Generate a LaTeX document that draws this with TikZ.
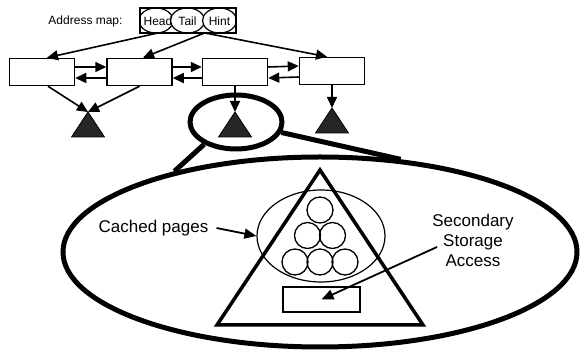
\documentclass[tikz,border=0pt]{standalone}
\usepackage{fontspec}
\setmainfont{Liberation Sans}
\usetikzlibrary{arrows.meta,shapes.geometric}
\begin{document}
\begin{tikzpicture}[x=1pt,y=-1pt,
  box/.style={draw,line width=1.5pt,minimum width=65pt,minimum height=27pt,inner sep=0pt,fill=white},
  conn/.style={line width=1.6pt,-{Triangle[length=11pt,width=10pt]}},
  conn2/.style={line width=1.8pt,-{Triangle[length=12pt,width=10pt]}},
  ell/.style={ellipse,draw,line width=1.2pt,fill=white,minimum width=34pt,minimum height=25pt,inner sep=0pt},
  lbl/.style={font=\fontsize{17}{20}\selectfont,align=center,inner sep=0pt},
  small/.style={font=\fontsize{12}{14}\selectfont,inner sep=0pt},
  tri/.style={fill=black!85,draw=black,line width=0.8pt,line join=miter},
  pg/.style={circle,draw,line width=1.3pt,minimum size=26pt,inner sep=0pt},
  thick5/.style={line width=5pt}
]
\useasboundingbox (0,0) rectangle (581,352);

% address map
\node[small] (amlabel) at (85.5,21) {Address map:};
\node[minimum width=96pt,minimum height=25pt,inner sep=0pt] (amap) at (188,20.5) {};
\begin{scope}
  \clip (amap.south west) rectangle (amap.north east);
  \node[ell] (head) at (156,20.5) {};
  \node[small] (headtxt) at (158,21) {Head};
  \node[ell] (tail) at (187.5,20.5) {};
  \node[small] (tailtxt) at (187.5,21) {Tail};
  \node[ell] (hint) at (219.5,20.5) {};
  \node[small] (hinttxt) at (219.5,21) {Hint};
\end{scope}
\draw[line width=1.5pt] (amap.south west) rectangle (amap.north east);

% list boxes
\node[box] (box1) at (42,72) {};
\node[box] (box2) at (139.5,72) {};
\node[box] (box3) at (235,72) {};
\node[box] (box4) at (332,71) {};

\draw[conn] ([xshift=-31pt]amap.south) -- ([xshift=5pt]box1.north);
\draw[conn] ([xshift=16pt]amap.south) -- ([xshift=3.5pt]box2.north);
\draw[conn] ([xshift=18pt]amap.south) -- ([xshift=-5pt]box4.north);

\foreach \a/\b in {box1/box2,box2/box3,box3/box4}{
  \draw[conn] ([yshift=5pt]\a.east) -- ([yshift=5pt]\b.west);
  \draw[conn] ([yshift=-6pt]\b.west) -- ([yshift=-6pt]\a.east);
}

% small triangles
\coordinate (t1) at (88,112);
\coordinate (t2) at (235,112);
\coordinate (t3) at (332,108);
\foreach \t in {t1,t2,t3}{
  \filldraw[tri] (\t) -- ++(16.5,25) -- ++(-33,0) -- cycle;
}
\draw[conn] ([xshift=6pt]box1.south) -- (t1);
\draw[conn] (box2.south) -- (t1);
\draw[conn] (box3.south) -- (t2);
\draw[conn] (box4.south) -- (t3);

% lens and magnified view
\node[ellipse,draw,thick5,minimum width=514pt,minimum height=190pt,inner sep=0pt] (big) at (320,252) {};
\node[ellipse,draw,thick5,minimum width=92pt,minimum height=54pt,inner sep=0pt] (lens) at (236,122) {};
\draw[thick5] (lens.215) -- (big.151);
\draw[thick5] (lens.347) -- (big.49);

% magnified triangle content
\coordinate (bt) at (320,170);
\draw[line width=3.5pt,line join=miter] (bt) -- (423,325) -- (217,325) -- cycle;
\node[ellipse,draw,line width=1.2pt,minimum width=128pt,minimum height=92pt,inner sep=0pt] (cache) at (321,236) {};
\node[pg] (p1) at (320,210) {};
\node[pg] (p2) at (307.5,235.5) {};
\node[pg] (p3) at (332.5,235.5) {};
\node[pg] (p4) at (295,262) {};
\node[pg] (p5) at (320,262) {};
\node[pg] (p6) at (345,262) {};
\node[draw,line width=1.2pt,minimum width=77pt,minimum height=25pt,inner sep=0pt] (disk) at (321.5,299.5) {};

\node[lbl] (cp) at (153.5,228) {Cached pages};
\node[lbl] (sec) at (473,240) {Secondary\\Storage\\Access};
\draw[conn2] ([xshift=8pt]cp.east) -- (cache.west);
\coordinate (secfrom) at (437,247);
\draw[conn2] (secfrom) -- (disk.center);
\end{tikzpicture}
\end{document}
